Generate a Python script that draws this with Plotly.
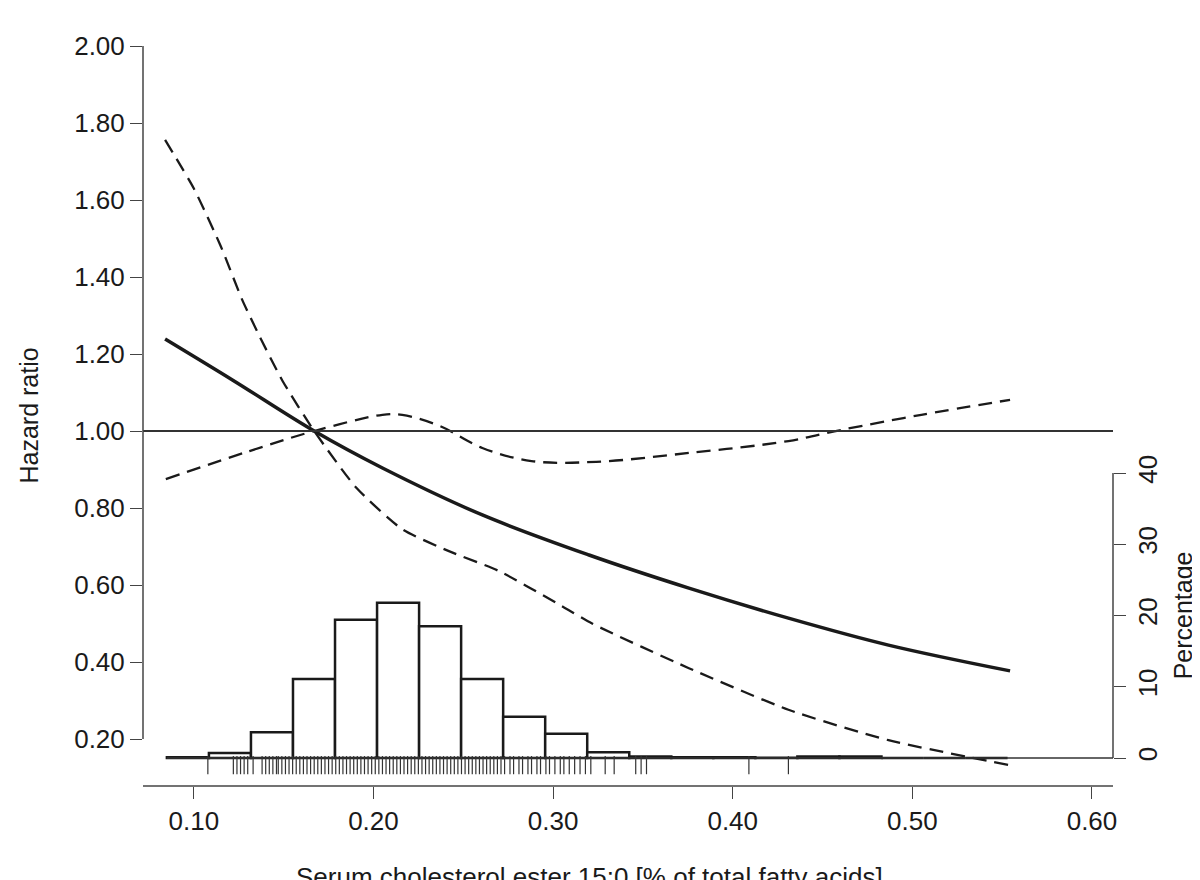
import plotly.graph_objects as go
import numpy as np

# hazard ratio curve (spline) and 95% CI
hr_x = [0.084, 0.1217, 0.167, 0.205, 0.2606, 0.32, 0.3756, 0.431, 0.4867, 0.5544]
hr_y = [1.239, 1.132, 1.000, 0.904, 0.782, 0.678, 0.592, 0.514, 0.444, 0.377]

ci_a_x = [0.084, 0.10, 0.115, 0.127, 0.1367, 0.1494, 0.167, 0.1906, 0.216, 0.242, 0.27,
          0.305, 0.3217, 0.3756, 0.431, 0.4867, 0.5544]
ci_a_y = [1.756, 1.630, 1.480, 1.34, 1.245, 1.13, 1.0, 0.852, 0.745, 0.688, 0.636,
          0.545, 0.500, 0.384, 0.276, 0.197, 0.132]

ci_b_x = [0.0844, 0.131, 0.167, 0.205, 0.216, 0.237, 0.2606, 0.288, 0.324, 0.3756,
          0.431, 0.4606, 0.505, 0.5544]
ci_b_y = [0.875, 0.948, 1.0, 1.042, 1.042, 1.013, 0.956, 0.922, 0.92, 0.943,
          0.974, 1.003, 1.042, 1.081]

# histogram (percentage)
bin_edges = [0.085, 0.1084, 0.1318, 0.1552, 0.1786, 0.202, 0.2254, 0.2488, 0.2722,
             0.2956, 0.319, 0.3424, 0.3658, 0.3892, 0.4126, 0.436, 0.4594, 0.4828,
             0.5062, 0.5296, 0.553]
pct = [0.1, 0.7, 3.6, 11.1, 19.4, 21.8, 18.5, 11.1, 5.8, 3.4, 0.8, 0.2, 0.1, 0.1,
       0.05, 0.2, 0.2, 0.0, 0.0, 0.0]

# rug of observed values
rug = [0.1078, 0.122, 0.124, 0.126, 0.128, 0.130, 0.133, 0.138, 0.140, 0.142, 0.144,
       0.146, 0.147, 0.149, 0.151, 0.153, 0.155, 0.157, 0.159, 0.161, 0.163, 0.165,
       0.167, 0.169, 0.171, 0.173, 0.175, 0.177, 0.179, 0.181, 0.183, 0.185, 0.187,
       0.189, 0.191, 0.193, 0.195, 0.197, 0.199, 0.201, 0.203, 0.205, 0.207, 0.209,
       0.211, 0.213, 0.215, 0.217, 0.219, 0.221, 0.223, 0.225, 0.227, 0.229, 0.231,
       0.233, 0.235, 0.237, 0.239, 0.241, 0.243, 0.245, 0.247, 0.249, 0.251, 0.253,
       0.255, 0.257, 0.259, 0.261, 0.263, 0.265, 0.267, 0.269, 0.271, 0.273, 0.276,
       0.278, 0.281, 0.283, 0.286, 0.288, 0.291, 0.293, 0.296, 0.298, 0.301, 0.304,
       0.306, 0.309, 0.312, 0.315, 0.318, 0.321, 0.329, 0.334, 0.346, 0.349, 0.352,
       0.409, 0.431]

hr_ticks = [0.2, 0.4, 0.6, 0.8, 1.0, 1.2, 1.4, 1.6, 1.8, 2.0]
x_ticks = [0.1, 0.2, 0.3, 0.4, 0.5, 0.6]
pct_ticks = [0, 10, 20, 30, 40]

edges = np.array(bin_edges)
centers = (edges[:-1] + edges[1:]) / 2
widths = np.diff(edges)

font = 'Liberation Sans, Arial, sans-serif'
ink = '#1a1a1a'

fig = go.Figure()
fig.add_trace(go.Bar(x=centers, y=pct, width=widths, yaxis='y2',
                     marker=dict(color='white', line=dict(color=ink, width=2.5))))
fig.add_trace(go.Scatter(x=rug, y=[-1.0] * len(rug), yaxis='y2', mode='markers',
                         marker=dict(symbol='line-ns-open', size=13, color='#333333',
                                     line=dict(color='#333333', width=1.2))))
fig.add_trace(go.Scatter(x=hr_x, y=hr_y, mode='lines', line_shape='spline',
                         line=dict(color=ink, width=3.5)))
fig.add_trace(go.Scatter(x=ci_a_x, y=ci_a_y, mode='lines', line_shape='spline',
                         line=dict(color=ink, width=2.3, dash='14px,8px', smoothing=0.6)))
fig.add_trace(go.Scatter(x=ci_b_x, y=ci_b_y, mode='lines', line_shape='spline',
                         line=dict(color=ink, width=2.3, dash='14px,8px')))

# reference line, axis lines
fig.add_hline(y=1.0, line_color='#333333', line_width=2)
fig.add_shape(type='line', xref='paper', yref='y', x0=0, x1=0, y0=0.2, y1=2.0,
              line=dict(color='#444444', width=1.5))
fig.add_shape(type='line', xref='paper', yref='paper', x0=0, x1=1, y0=0, y1=0,
              line=dict(color='#444444', width=1.5))
fig.add_shape(type='line', xref='paper', yref='y2', x0=1, x1=1, y0=0, y1=40,
              line=dict(color='#444444', width=1.5))
fig.add_shape(type='line', xref='x', yref='y2', x0=0.085, x1=1, y0=0, y1=0,
              line=dict(color='#333333', width=1.5))

fig.add_annotation(text='Hazard ratio', xref='paper', yref='paper', x=-0.118, y=0.5,
                   xanchor='center', textangle=-90, showarrow=False,
                   font=dict(size=25, color=ink, family=font))
fig.add_annotation(text='Percentage', xref='paper', yref='y2', x=1.072, y=20,
                   xanchor='center', textangle=-90, showarrow=False,
                   font=dict(size=25, color=ink, family=font))
fig.add_annotation(text='Serum cholesterol ester 15:0 [% of total fatty acids]',
                   xref='paper', yref='paper', x=0.46, y=-0.1, yanchor='top',
                   showarrow=False, font=dict(size=26, color=ink, family=font))

fig.update_layout(
    width=1200, height=880,
    margin=dict(l=135, r=95, t=38, b=102),
    plot_bgcolor='white', paper_bgcolor='white',
    showlegend=False,
    font=dict(family=font, color=ink),
    xaxis=dict(range=[0.0717, 0.6117], tickvals=x_ticks, ticktext=['%.2f' % v for v in x_ticks],
               ticks='outside', ticklen=12, tickcolor='#444444', showgrid=False,
               zeroline=False, showline=False, tickfont=dict(size=26)),
    yaxis=dict(range=[0.078, 2.0], tickvals=hr_ticks, ticktext=['%.2f' % v for v in hr_ticks],
               ticks='outside', ticklen=12, tickcolor='#444444', showgrid=False,
               zeroline=False, showline=False, tickfont=dict(size=26)),
    yaxis2=dict(range=[-3.93, 99.95], overlaying='y', side='right', tickvals=pct_ticks,
                ticks='outside', ticklen=12, tickcolor='#444444', tickangle=-90,
                showgrid=False, zeroline=False, showline=False, tickfont=dict(size=26)),
)

fig.write_html('out.html')
